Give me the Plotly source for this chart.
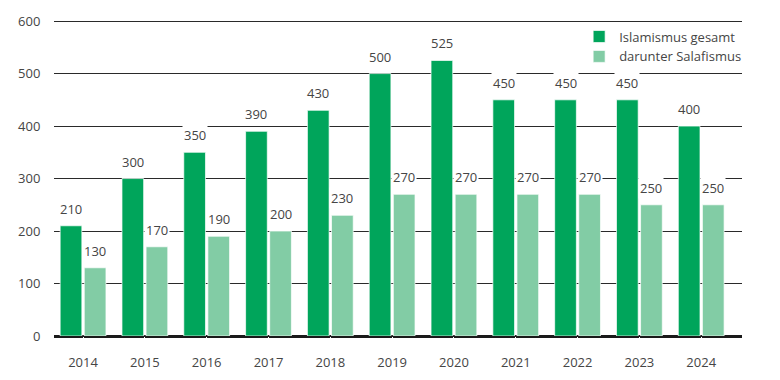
import plotly.graph_objects as go

years = ["2014", "2015", "2016", "2017", "2018", "2019", "2020", "2021", "2022", "2023", "2024"]
islamismus = [210, 300, 350, 390, 430, 500, 525, 450, 450, 450, 400]
salafismus = [130, 170, 190, 200, 230, 270, 270, 270, 270, 250, 250]
name_a = "Islamismus gesamt"
name_b = "darunter Salafismus"
dark = "#00a55b"
light = "#82cca5"
txt = "#454545"
FONT = "Open Sans"

bargap = 0.22
off = (1 - bargap) / 4

fig = go.Figure()
fig.add_trace(go.Bar(x=list(range(len(years))), y=islamismus, name=name_a, marker_color=dark,
                     marker_line=dict(color="rgba(255,255,255,0.7)", width=1)))
fig.add_trace(go.Bar(x=list(range(len(years))), y=salafismus, name=name_b, marker_color=light,
                     marker_line=dict(color="rgba(255,255,255,0.7)", width=1)))

ann = []
for i, (a, b) in enumerate(zip(islamismus, salafismus)):
    for xv, v in ((i - off, a), (i + off, b)):
        ann.append(dict(x=xv, y=v, xref="x", yref="y", text=str(v), showarrow=False,
                        yanchor="bottom", yshift=6, bgcolor="white", borderpad=1,
                        font=dict(family=FONT, size=13, color=txt)))

fig.update_layout(
    width=780, height=380,
    margin=dict(l=54, r=38, t=19, b=44),
    paper_bgcolor="white", plot_bgcolor="white",
    barmode="group", bargap=bargap, bargroupgap=0.1,
    font=dict(family=FONT, size=13, color=txt),
    annotations=ann,
    showlegend=True,
    legend=dict(x=1.006, xanchor="right", y=0.992, yanchor="top", bgcolor="rgba(0,0,0,0)",
                font=dict(family=FONT, size=13, color=txt), tracegroupgap=0,
                itemwidth=30),
    xaxis=dict(range=[-0.47, 10.66], tickmode="array", tickvals=list(range(len(years))),
               ticktext=years, showgrid=False, showline=False, zeroline=False,
               ticks="outside", ticklen=14, tickcolor="white", automargin=False,
               tickfont=dict(family=FONT, size=13, color=txt)),
    yaxis=dict(range=[0, 604], tickvals=[0, 100, 200, 300, 400, 500, 600],
               showgrid=True, gridcolor="#2a2a2a", gridwidth=1.3,
               zeroline=True, zerolinecolor="#1a1a1a", zerolinewidth=3, showline=False,
               ticks="outside", ticklen=10, tickcolor="white", automargin=False,
               tickfont=dict(family=FONT, size=13, color=txt)),
)

fig.write_html("out.html", config={"displayModeBar": False},
               post_script="document.body.style.margin='0';")
